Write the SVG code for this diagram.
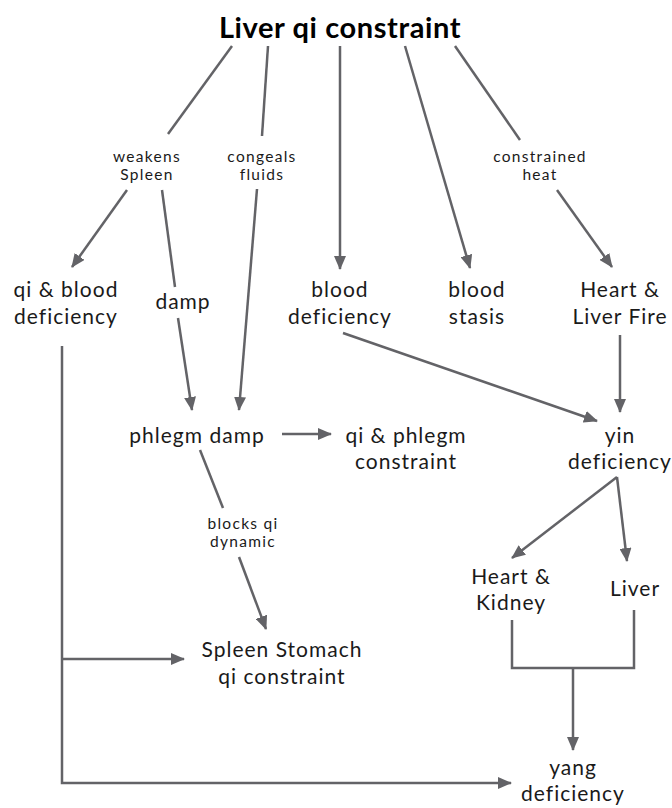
<svg xmlns="http://www.w3.org/2000/svg" width="672" height="808" viewBox="0 0 672 808">
<defs>
<marker id="ah" viewBox="0 0 14 12" refX="13" refY="6" markerWidth="14" markerHeight="12" markerUnits="userSpaceOnUse" orient="auto">
<path d="M0,0 L14,6 L0,12 Z" fill="#636367"/>
</marker>
<style>
.n{font-family:Lato,"Liberation Sans",sans-serif;font-size:21px;letter-spacing:1px;fill:#1a1a1a;text-anchor:middle;}
.l{font-family:Lato,"Liberation Sans",sans-serif;font-size:15.5px;letter-spacing:1.3px;fill:#1a1a1a;text-anchor:middle;}
.t{font-family:Lato,"Liberation Sans",sans-serif;font-size:29px;font-weight:bold;letter-spacing:0.6px;fill:#000;text-anchor:middle;}
.c{fill:none;stroke:#636367;stroke-width:2.5;}
.a{marker-end:url(#ah);}
</style>
</defs>
<rect width="672" height="808" fill="#fff"/>
<g id="connectors">
<line class="c" x1="232" y1="46" x2="168" y2="134"/>
<line class="c a" x1="127" y1="190" x2="72" y2="267"/>
<line class="c" x1="268" y1="46" x2="262" y2="136"/>
<line class="c a" x1="257" y1="189" x2="239" y2="410"/>
<line class="c" x1="162" y1="190" x2="175" y2="287"/>
<line class="c a" x1="178" y1="318" x2="192" y2="410"/>
<line class="c a" x1="340" y1="46" x2="340" y2="269"/>
<line class="c a" x1="405" y1="46" x2="470" y2="268"/>
<line class="c" x1="455" y1="46" x2="520" y2="140"/>
<line class="c a" x1="557" y1="190" x2="612" y2="267"/>
<line class="c a" x1="343" y1="333" x2="597" y2="421"/>
<line class="c a" x1="620" y1="335" x2="620" y2="412"/>
<line class="c a" x1="282" y1="434" x2="331" y2="434"/>
<line class="c" x1="200" y1="450" x2="223" y2="508"/>
<line class="c a" x1="239" y1="557" x2="266" y2="629"/>
<line class="c a" x1="617" y1="477" x2="512" y2="558"/>
<line class="c a" x1="617" y1="477" x2="627" y2="561"/>
<polyline class="c" points="512,620 512,668 634,668 634,610"/>
<line class="c a" x1="573" y1="668" x2="573" y2="750"/>
<polyline class="c a" points="62,346 62,783 511,783"/>
<line class="c a" x1="62" y1="659" x2="184" y2="659"/>
</g>
<g id="title"><text class="t" x="340" y="38">Liver qi constraint</text></g>
<g id="lbl-weakens"><text class="l" x="147" y="162">weakens</text><text class="l" x="147" y="180">Spleen</text></g>
<g id="lbl-congeals"><text class="l" x="262" y="162">congeals</text><text class="l" x="262" y="180">fluids</text></g>
<g id="lbl-constrained"><text class="l" x="540" y="162">constrained</text><text class="l" x="540" y="180">heat</text></g>
<g id="lbl-blocks"><text class="l" x="243" y="529">blocks qi</text><text class="l" x="243" y="547">dynamic</text></g>
<g id="qi-blood-def"><text class="n" x="66" y="297">qi &amp; blood</text><text class="n" x="66" y="324">deficiency</text></g>
<g id="damp"><text class="n" x="183" y="309">damp</text></g>
<g id="blood-def"><text class="n" x="340" y="297">blood</text><text class="n" x="340" y="324">deficiency</text></g>
<g id="blood-stasis"><text class="n" x="477" y="297">blood</text><text class="n" x="477" y="324">stasis</text></g>
<g id="heart-liver-fire"><text class="n" x="620" y="297">Heart &amp;</text><text class="n" x="620" y="324">Liver Fire</text></g>
<g id="phlegm-damp"><text class="n" x="197" y="443">phlegm damp</text></g>
<g id="qi-phlegm"><text class="n" x="406" y="443">qi &amp; phlegm</text><text class="n" x="406" y="469">constraint</text></g>
<g id="yin-def"><text class="n" x="620" y="443">yin</text><text class="n" x="620" y="469">deficiency</text></g>
<g id="heart-kidney"><text class="n" x="511" y="584">Heart &amp;</text><text class="n" x="511" y="610">Kidney</text></g>
<g id="liver"><text class="n" x="635" y="596">Liver</text></g>
<g id="spleen-stomach"><text class="n" x="282" y="657">Spleen Stomach</text><text class="n" x="282" y="684">qi constraint</text></g>
<g id="yang-def"><text class="n" x="573" y="775">yang</text><text class="n" x="573" y="801">deficiency</text></g>
</svg>
